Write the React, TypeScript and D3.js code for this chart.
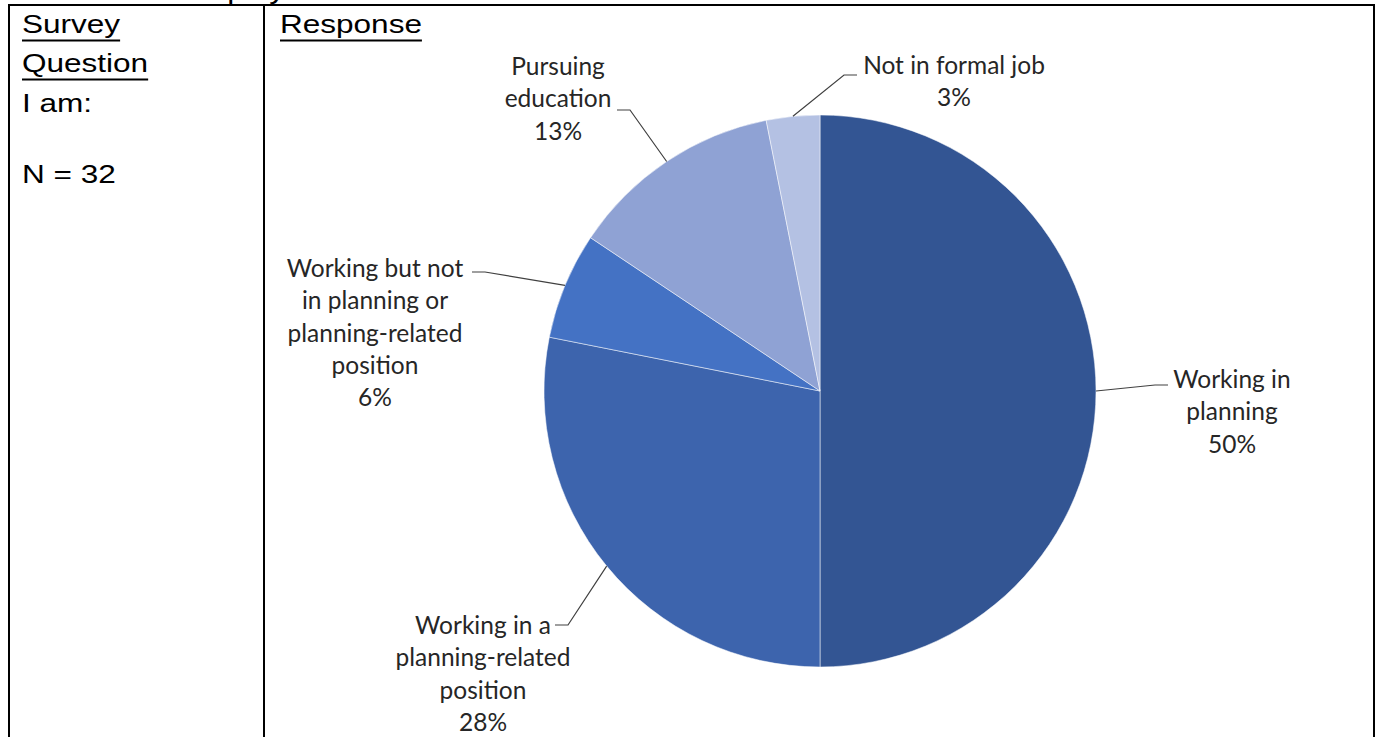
import React from "react";
import * as d3 from "d3";

// survey answers, counted out of N = 32
const categories = [
  "Working in planning",
  "Working in a planning-related position",
  "Working but not in planning or planning-related position",
  "Pursuing education",
  "Not in formal job",
];
const counts = [16, 9, 2, 4, 1];
const labelLines = [
  ["Working in", "planning"],
  ["Working in a", "planning-related", "position"],
  ["Working but not", "in planning or", "planning-related", "position"],
  ["Pursuing", "education"],
  ["Not in formal job"],
];
const colors = ["#335593", "#3d64ad", "#4472c4", "#8fa2d4", "#b4c1e3"];

const W = 1380;
const H = 737;
const cx = 820;
const cy = 391;
const radius = 276;

// label placement relative to pie centre: text centre/first line, leader end, elbow direction
const labelLayout = [
  { tx: 412, ty: -13, ex: 348, ey: -6, dir: -1 },
  { tx: -337, ty: 233, ex: -265, ey: 234, dir: 1 },
  { tx: -445, ty: -124, ex: -348, ey: -119, dir: 1 },
  { tx: -262, ty: -326, ex: -203, ey: -281, dir: 1 },
  { tx: 134, ty: -327, ex: 37, ey: -316, dir: -1 },
];

const tableFont = "'Liberation Sans', Arial, sans-serif";
const labelFont = "Lato, 'Open Sans', sans-serif";

const Stretched = ({ x, y, text, underline = false, size = 26.5 }: any) => {
  const sx = 1.19;
  const ref = React.useRef<SVGTextElement>(null);
  const [w, setW] = React.useState(0);
  React.useEffect(() => {
    if (ref.current) setW(ref.current.getComputedTextLength());
  }, [text]);
  return (
    <g transform={`translate(${x},${y}) scale(${sx},1)`}>
      <text ref={ref} fontFamily={tableFont} fontSize={size} fill="#000">
        {text}
      </text>
      {underline && w > 0 && <rect x={0} y={6.5} width={w} height={2} fill="#000" />}
    </g>
  );
};

export default function App() {
  const pie = d3
    .pie<number>()
    .sort(null)
    .startAngle(0)
    .endAngle(2 * Math.PI);
  const arcs = pie(counts);
  const arc = d3.arc<d3.PieArcDatum<number>>().innerRadius(0).outerRadius(radius);
  const edge = d3.arc<d3.PieArcDatum<number>>().innerRadius(radius).outerRadius(radius);
  const total = d3.sum(counts);
  const pct = d3.format(".0%");

  return (
    <svg
      width={W}
      height={H}
      viewBox={`0 0 ${W} ${H}`}
      style={{ position: "absolute", left: 0, top: 0, display: "block", background: "#fff" }}
    >
      {/* heading above the table, only its descenders show */}
      <Stretched x={180} y={-1.5} text="Employment Status" />

      {/* table borders */}
      <line x1={8} x2={1375} y1={5} y2={5} stroke="#000" strokeWidth={2} />
      <line x1={9} x2={9} y1={4} y2={H} stroke="#000" strokeWidth={2} />
      <line x1={264} x2={264} y1={4} y2={H} stroke="#000" strokeWidth={2} />
      <line x1={1374} x2={1374} y1={4} y2={H} stroke="#000" strokeWidth={2} />

      {/* left column */}
      <Stretched x={22} y={33} text="Survey" underline />
      <Stretched x={22} y={72} text="Question" underline />
      <Stretched x={22} y={112} text="I am:" />
      <Stretched x={22} y={183} text="N = 32" />
      <Stretched x={280} y={33} text="Response" underline />

      {/* pie */}
      <g transform={`translate(${cx},${cy})`}>
        {arcs.map((a, i) => (
          <path
            key={categories[i]}
            d={arc(a) as string}
            fill={colors[i]}
            stroke="#ffffff"
            strokeOpacity={0.5}
            strokeWidth={1}
          />
        ))}
        {arcs.map((a, i) => {
          const [sx, sy] = edge.centroid(a);
          const L = labelLayout[i];
          const elbowX = L.ex + L.dir * 13;
          const lines = [...labelLines[i], pct(counts[i] / total)];
          return (
            <g key={"lbl" + i}>
              <polyline
                points={`${sx},${sy} ${elbowX},${L.ey} ${L.ex},${L.ey}`}
                fill="none"
                stroke="#404040"
                strokeWidth={1.2}
              />
              <text
                fontFamily={labelFont}
                fontSize={24.5}
                fill="#262626"
                textAnchor="middle"
                dominantBaseline="central"
              >
                {lines.map((t, j) => (
                  <tspan key={j} x={L.tx} y={L.ty + j * 32.3}>
                    {t}
                  </tspan>
                ))}
              </text>
            </g>
          );
        })}
      </g>
    </svg>
  );
}
